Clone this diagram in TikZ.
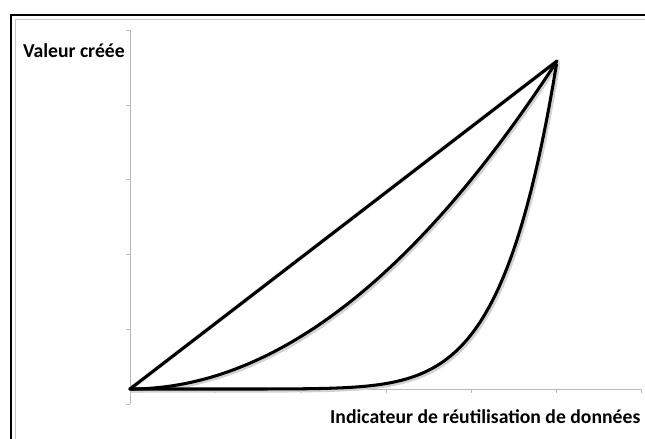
\documentclass[tikz,border=0pt]{standalone}
\usepackage{fontspec}
\setmainfont{Carlito}

\tikzset{
    courbe/.style={line width=2.6pt, line join=round, line cap=round},
    ombre/.style={line width=3.4pt, color=gray!35, line join=round, line cap=round, shift={(1.6,1.6)}},
    axe/.style={line width=0.8pt, color=gray!55},
    titre/.style={font=\bfseries\fontsize{16.8}{19}\selectfont, inner sep=0pt}
}

\begin{document}
\begin{tikzpicture}[x=0.03cm, y=-0.03cm]

    \useasboundingbox (0,0) rectangle (645,438);
    \clip (0,0) rectangle (645,438);

    \draw[line width=2.4pt] (11,15) rectangle (700,500);       % Cadre noir
    \draw[line width=1pt, color=gray!45] (15.5,19.5) rectangle (700,500); % Cadre gris

    \coordinate (origine) at (130,389);
    \coordinate (sommet)  at (557,61);

    % Axes
    \draw[axe] (130,30) -- (130,404);
    \draw[axe] (130,389) -- (641,389);
    \foreach \y in {30,105,179,254,329,404}
        \draw[axe] (126,\y) -- (130,\y);
    \foreach \x in {215,301,386,471,556,641}
        \draw[axe] (\x,389) -- (\x,393);

    % Ombres
    \draw[ombre] (origine) -- (sommet);
    \draw[ombre] plot[domain=0:1, samples=80] ({130+427*\x},{389-328*(\x)^2});
    \draw[ombre] plot[domain=0:1, samples=120] ({130+427*\x},{389-328*(\x)^8});

    % Courbes
    \draw[courbe] (origine) -- (sommet);                                            % Droite
    \draw[courbe] plot[domain=0:1, samples=80] ({130+427*\x},{389-328*(\x)^2});   % Courbe du milieu
    \draw[courbe] plot[domain=0:1, samples=120] ({130+427*\x},{389-328*(\x)^8});  % Courbe du bas

    \node (ylabel) [titre, anchor=east] at (125,51) {Valeur créée};
    \node (xlabel) [titre, anchor=west] at (330,417) {Indicateur de réutilisation de données};

\end{tikzpicture}
\end{document}
